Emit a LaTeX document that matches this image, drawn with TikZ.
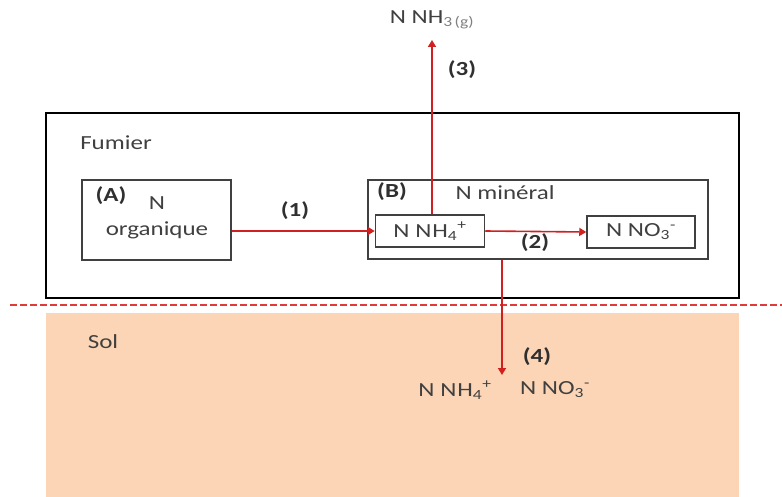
\documentclass[tikz,border=0pt]{standalone}
\usepackage{fontspec}
\setmainfont{Carlito}[FakeStretch=1.25]
\usetikzlibrary{arrows.meta}
\definecolor{txt}{HTML}{404040}
\definecolor{lbl}{HTML}{303030}
\definecolor{arrred}{HTML}{D02020}
\definecolor{dashred}{HTML}{E03A3A}
\definecolor{soilc}{HTML}{FBD5B5}
\definecolor{boxc}{HTML}{404040}
\begin{document}
\begin{tikzpicture}[x=1pt,y=-1pt,
  font=\fontsize{20}{24}\selectfont, text=txt,
  box/.style={draw=boxc,line width=1.5pt,minimum width=#1,inner sep=0pt},
  arr/.style={draw=arrred,line width=1.6pt,-{Triangle[width=8pt,length=7pt]}},
  lab/.style={font=\fontsize{20}{24}\selectfont\bfseries,text=lbl},
  plain/.style={inner sep=0pt}]
\useasboundingbox (0,0) rectangle (782,497);
% soil
\node[fill=soilc,minimum width=693pt,minimum height=184pt,inner sep=0pt] (soil) at (392.5,405) {};
% dashed boundary
\draw[dashred,line width=2.2pt,dash pattern=on 7pt off 3pt] (10,305) -- (782,305);
% boxes
\node[box=693pt,draw=black,minimum height=185pt] (fumier) at (392.5,205.5) {};
\node[box=149pt,minimum height=80pt] (A) at (156.5,220) {};
\node[box=340pt,minimum height=79pt] (B) at (538,219.5) {};
\node[box=109pt,minimum height=32pt,fill=white] (nh4) at (430,231) {N N\kern1pt H\textsubscript{4}\textsuperscript{+}};
\node[box=108pt,minimum height=32pt] (no3) at (641,232) {N NO\textsubscript{3}\textsuperscript{-}};
% texts
\node[plain] (tfum) at (116,143) {Fumier};
\node[plain] (tsol) at (103,342) {Sol};
\node[lab,plain] (tA) at (111,196) {(A)};
\node[plain] (tN) at (157,203) {N};
\node[plain] (torg) at (157,230) {organique};
\node[lab,plain] (tB) at (392,192) {(B)};
\node[plain] (tmin) at (505,193) {N min\'eral};
\node[plain] (tnh3) at (432,20) {N NH\textsubscript{\textcolor{gray}{3\,(g)}}};
\node[plain] (bnh4) at (455,390) {N N\kern1pt H\textsubscript{4}\textsuperscript{+}};
\node[plain] (bno3) at (555,390) {N NO\textsubscript{3}\textsuperscript{-}};
% labels
\node[lab,plain] (l1) at (295,211) {(1)};
\node[lab,plain] (l2) at (535,243) {(2)};
\node[lab,plain] (l3) at (462,70) {(3)};
\node[lab,plain] (l4) at (537,357) {(4)};
% arrows
\coordinate (c3) at (432,40);
\coordinate (c4) at (502,375);
\draw[arr] (A.east |- nh4.west) -- (nh4.west);
\draw[arr] (nh4.east) -- (no3.west);
\draw[arr] (nh4.north -| c3) -- (c3);
\draw[arr] (B.south -| c4) -- (c4);
\end{tikzpicture}
\end{document}
